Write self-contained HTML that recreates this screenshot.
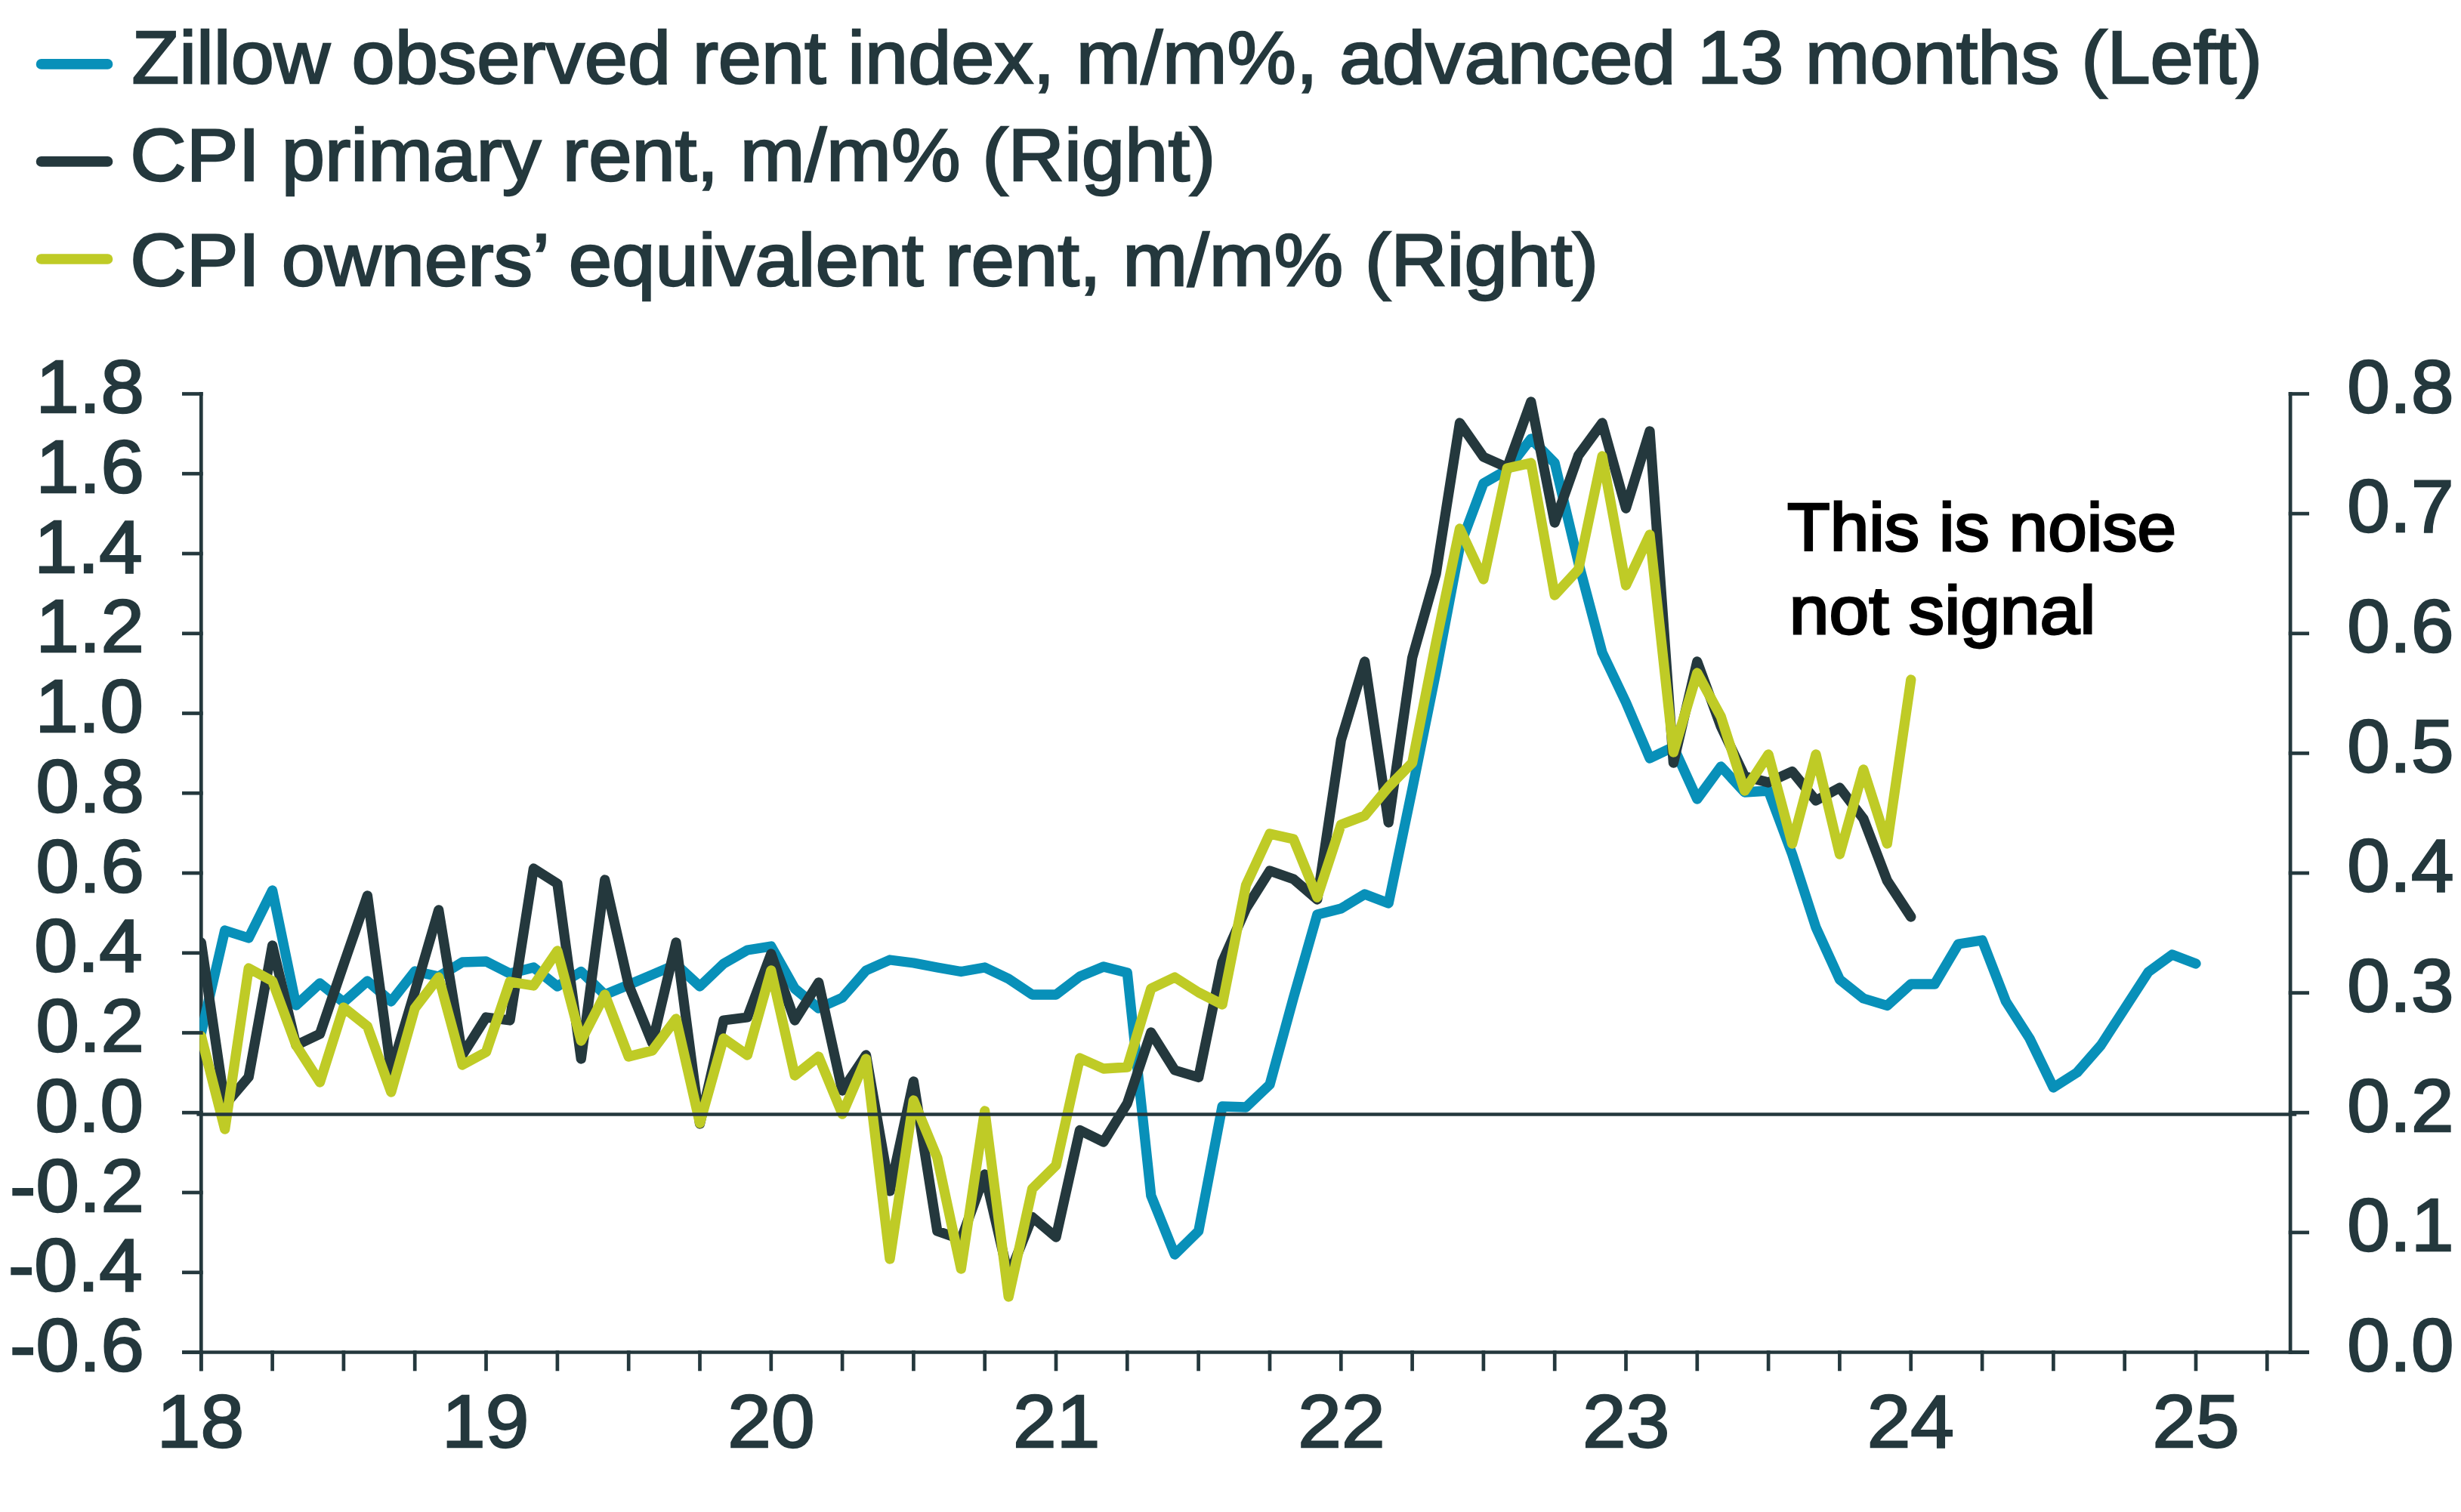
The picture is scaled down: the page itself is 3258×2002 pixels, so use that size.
<!DOCTYPE html><html><head><meta charset="utf-8"><style>html,body{margin:0;padding:0;background:#fff;overflow:hidden}svg{display:block}</style></head><body>
<svg width="3258" height="2002" viewBox="0 0 3258 2002">
<rect width="3258" height="2002" fill="#fff"/>
<g stroke-width="13.7" stroke-linecap="round">
<line x1="54.6" y1="84.9" x2="142.5" y2="84.9" stroke="#0890b9"/>
<line x1="54.6" y1="213.9" x2="142.5" y2="213.9" stroke="#24383d"/>
<line x1="54.6" y1="343" x2="142.5" y2="343" stroke="#bfcb26"/>
</g>
<g font-family="Liberation Sans, sans-serif" font-size="99.0" fill="#24383d" stroke="#24383d" stroke-width="2.4">
<text transform="translate(174.42,110) scale(1.0378,1)">Zillow observed rent index, m/m%, advanced 13 months (Left)</text>
<text transform="translate(172.34,239.3) scale(1.0410,1)">CPI primary rent, m/m% (Right)</text>
<text transform="translate(172.33,377.9) scale(1.0413,1)">CPI owners’ equivalent rent, m/m% (Right)</text>
<text transform="translate(47.45,546.0) scale(1.0414,1)">1.8</text>
<text transform="translate(47.45,651.8) scale(1.0414,1)">1.6</text>
<text transform="translate(45.37,757.5) scale(1.0414,1)">1.4</text>
<text transform="translate(47.45,863.2) scale(1.0414,1)">1.2</text>
<text transform="translate(46.41,969.0) scale(1.0414,1)">1.0</text>
<text transform="translate(47.45,1074.8) scale(1.0414,1)">0.8</text>
<text transform="translate(47.45,1180.5) scale(1.0414,1)">0.6</text>
<text transform="translate(45.37,1286.2) scale(1.0414,1)">0.4</text>
<text transform="translate(47.45,1392.0) scale(1.0414,1)">0.2</text>
<text transform="translate(46.41,1497.8) scale(1.0414,1)">0.0</text>
<text transform="translate(13.09,1603.5) scale(1.0414,1)">-0.2</text>
<text transform="translate(11.00,1709.2) scale(1.0414,1)">-0.4</text>
<text transform="translate(13.09,1815.0) scale(1.0414,1)">-0.6</text>
<text transform="translate(3107.22,545.7) scale(1.0263,1)">0.8</text>
<text transform="translate(3107.22,704.3) scale(1.0263,1)">0.7</text>
<text transform="translate(3107.22,863.0) scale(1.0263,1)">0.6</text>
<text transform="translate(3107.22,1021.6) scale(1.0263,1)">0.5</text>
<text transform="translate(3107.22,1180.2) scale(1.0263,1)">0.4</text>
<text transform="translate(3107.22,1338.8) scale(1.0263,1)">0.3</text>
<text transform="translate(3107.22,1497.5) scale(1.0263,1)">0.2</text>
<text transform="translate(3107.22,1656.1) scale(1.0263,1)">0.1</text>
<text transform="translate(3107.22,1814.7) scale(1.0263,1)">0.0</text>
<text transform="translate(207.83,1915.7) scale(1.0455,1)">18</text>
<text transform="translate(585.07,1915.7) scale(1.0455,1)">19</text>
<text transform="translate(963.35,1915.7) scale(1.0455,1)">20</text>
<text transform="translate(1341.12,1915.7) scale(1.0455,1)">21</text>
<text transform="translate(1718.36,1915.7) scale(1.0455,1)">22</text>
<text transform="translate(2095.07,1915.7) scale(1.0455,1)">23</text>
<text transform="translate(2471.79,1915.7) scale(1.0455,1)">24</text>
<text transform="translate(2849.55,1915.7) scale(1.0455,1)">25</text>
</g>
<g font-family="Liberation Sans, sans-serif" font-size="89.3" fill="#000" stroke="#000" stroke-width="2.8">
<text transform="translate(2366.06,729) scale(1.0381,1)">This is noise</text>
<text transform="translate(2368.76,838.8) scale(1.0610,1)">not signal</text>
</g>
<g stroke="#24383d" stroke-width="4.7" fill="none">
<line x1="266.3" y1="519.1" x2="266.3" y2="1815.3"/>
<line x1="3032.1" y1="519.1" x2="3032.1" y2="1792.9"/>
<line x1="241" y1="1790.5" x2="3057" y2="1790.5"/>
</g>
<defs><clipPath id="pc"><rect x="264.2" y="0" width="2990" height="2002"/></clipPath></defs>
<g fill="none" stroke-width="13.3" stroke-linejoin="round" stroke-linecap="round" clip-path="url(#pc)">
<path d="M266.3,1368.0 L297.7,1232.0 L329.2,1242.0 L360.6,1179.0 L392.0,1331.0 L423.5,1302.0 L454.9,1327.0 L486.4,1299.0 L517.8,1326.0 L549.2,1286.0 L580.7,1293.0 L612.1,1274.0 L643.5,1273.0 L675.0,1289.0 L706.4,1281.0 L737.9,1306.0 L769.3,1286.5 L800.7,1317.0 L832.2,1304.0 L863.6,1290.5 L895.0,1277.0 L926.5,1306.0 L957.9,1276.0 L989.4,1258.0 L1020.8,1253.0 L1052.2,1309.0 L1083.7,1335.0 L1115.1,1321.0 L1146.5,1285.0 L1178.0,1271.0 L1209.4,1275.0 L1240.8,1281.0 L1272.3,1286.5 L1303.7,1281.0 L1335.2,1296.0 L1366.6,1317.0 L1398.0,1317.0 L1429.5,1293.0 L1460.9,1280.0 L1492.3,1288.0 L1523.8,1583.0 L1555.2,1661.0 L1586.7,1630.0 L1618.1,1465.0 L1649.5,1466.0 L1681.0,1436.0 L1712.4,1321.0 L1743.8,1211.0 L1775.3,1203.0 L1806.7,1184.0 L1838.2,1196.0 L1869.6,1045.0 L1901.0,890.0 L1932.5,724.0 L1963.9,640.0 L1995.3,622.0 L2026.8,581.0 L2058.2,613.0 L2089.6,745.0 L2121.1,864.0 L2152.5,930.0 L2184.0,1004.0 L2215.4,989.0 L2246.8,1058.0 L2278.3,1015.0 L2309.7,1049.0 L2341.1,1047.0 L2372.6,1131.0 L2404.0,1228.0 L2435.5,1297.0 L2466.9,1322.0 L2498.3,1331.5 L2529.8,1303.0 L2561.2,1303.0 L2592.6,1250.0 L2624.1,1245.0 L2655.5,1326.0 L2686.9,1375.0 L2718.4,1440.0 L2749.8,1420.0 L2781.3,1384.0 L2812.7,1335.5 L2844.1,1287.0 L2875.6,1264.0 L2907.0,1276.0" stroke="#0890b9"/>
<path d="M266.3,1248.0 L297.7,1463.0 L329.2,1426.0 L360.6,1252.0 L392.0,1384.0 L423.5,1369.0 L454.9,1277.0 L486.4,1186.0 L517.8,1418.0 L549.2,1313.0 L580.7,1205.0 L612.1,1397.0 L643.5,1347.0 L675.0,1351.0 L706.4,1150.0 L737.9,1170.0 L769.3,1402.0 L800.7,1165.0 L832.2,1304.0 L863.6,1381.0 L895.0,1248.0 L926.5,1488.0 L957.9,1351.0 L989.4,1347.0 L1020.8,1263.0 L1052.2,1351.0 L1083.7,1301.0 L1115.1,1444.0 L1146.5,1397.0 L1178.0,1577.0 L1209.4,1432.0 L1240.8,1630.0 L1272.3,1641.0 L1303.7,1555.0 L1335.2,1690.0 L1366.6,1611.5 L1398.0,1638.0 L1429.5,1496.5 L1460.9,1512.0 L1492.3,1461.0 L1523.8,1367.0 L1555.2,1417.0 L1586.7,1426.5 L1618.1,1274.0 L1649.5,1203.0 L1681.0,1153.0 L1712.4,1164.0 L1743.8,1191.0 L1775.3,980.0 L1806.7,876.0 L1838.2,1089.0 L1869.6,871.0 L1901.0,760.0 L1932.5,560.0 L1963.9,605.0 L1995.3,619.0 L2026.8,532.0 L2058.2,692.0 L2089.6,603.0 L2121.1,560.0 L2152.5,673.0 L2184.0,571.0 L2215.4,1010.0 L2246.8,876.0 L2278.3,962.0 L2309.7,1028.0 L2341.1,1036.0 L2372.6,1021.5 L2404.0,1060.0 L2435.5,1043.0 L2466.9,1084.0 L2498.3,1166.0 L2529.8,1214.0" stroke="#24383d"/>
<path d="M266.3,1372.0 L297.7,1495.0 L329.2,1282.0 L360.6,1299.0 L392.0,1384.0 L423.5,1433.0 L454.9,1334.0 L486.4,1359.0 L517.8,1446.0 L549.2,1335.0 L580.7,1294.0 L612.1,1410.0 L643.5,1393.0 L675.0,1300.0 L706.4,1305.0 L737.9,1259.0 L769.3,1378.0 L800.7,1317.0 L832.2,1399.0 L863.6,1391.0 L895.0,1349.0 L926.5,1487.0 L957.9,1375.0 L989.4,1397.0 L1020.8,1285.0 L1052.2,1424.0 L1083.7,1399.0 L1115.1,1475.0 L1146.5,1402.0 L1178.0,1667.0 L1209.4,1457.0 L1240.8,1533.0 L1272.3,1680.0 L1303.7,1471.0 L1335.2,1717.0 L1366.6,1574.0 L1398.0,1543.0 L1429.5,1401.0 L1460.9,1415.0 L1492.3,1413.0 L1523.8,1309.0 L1555.2,1294.0 L1586.7,1314.0 L1618.1,1330.0 L1649.5,1172.0 L1681.0,1104.0 L1712.4,1111.0 L1743.8,1188.0 L1775.3,1092.0 L1806.7,1080.0 L1838.2,1042.0 L1869.6,1010.0 L1901.0,851.0 L1932.5,700.0 L1963.9,767.0 L1995.3,620.0 L2026.8,613.0 L2058.2,788.0 L2089.6,754.0 L2121.1,604.0 L2152.5,775.0 L2184.0,708.0 L2215.4,996.0 L2246.8,891.0 L2278.3,949.0 L2309.7,1047.0 L2341.1,999.0 L2372.6,1117.0 L2404.0,999.0 L2435.5,1131.0 L2466.9,1019.0 L2498.3,1117.0 L2529.8,900.0" stroke="#bfcb26"/>
</g>
<g stroke="#24383d" stroke-width="4.7" fill="none">
<line x1="260.4" y1="1475.5" x2="3040.2" y2="1475.5"/>
<line x1="241" y1="521.5" x2="268.7" y2="521.5"/>
<line x1="241" y1="627.2" x2="268.7" y2="627.2"/>
<line x1="241" y1="733.0" x2="268.7" y2="733.0"/>
<line x1="241" y1="838.8" x2="268.7" y2="838.8"/>
<line x1="241" y1="944.5" x2="268.7" y2="944.5"/>
<line x1="241" y1="1050.2" x2="268.7" y2="1050.2"/>
<line x1="241" y1="1156.0" x2="268.7" y2="1156.0"/>
<line x1="241" y1="1261.8" x2="268.7" y2="1261.8"/>
<line x1="241" y1="1367.5" x2="268.7" y2="1367.5"/>
<line x1="241" y1="1473.2" x2="268.7" y2="1473.2"/>
<line x1="241" y1="1579.0" x2="268.7" y2="1579.0"/>
<line x1="241" y1="1684.8" x2="268.7" y2="1684.8"/>
<line x1="241" y1="1790.5" x2="268.7" y2="1790.5"/>
<line x1="3029.7" y1="521.5" x2="3057" y2="521.5"/>
<line x1="3029.7" y1="680.1" x2="3057" y2="680.1"/>
<line x1="3029.7" y1="838.8" x2="3057" y2="838.8"/>
<line x1="3029.7" y1="997.4" x2="3057" y2="997.4"/>
<line x1="3029.7" y1="1156.0" x2="3057" y2="1156.0"/>
<line x1="3029.7" y1="1314.6" x2="3057" y2="1314.6"/>
<line x1="3029.7" y1="1473.2" x2="3057" y2="1473.2"/>
<line x1="3029.7" y1="1631.9" x2="3057" y2="1631.9"/>
<line x1="3029.7" y1="1790.5" x2="3057" y2="1790.5"/>
<line x1="266.3" y1="1788" x2="266.3" y2="1815.3"/>
<line x1="360.6" y1="1788" x2="360.6" y2="1815.3"/>
<line x1="454.9" y1="1788" x2="454.9" y2="1815.3"/>
<line x1="549.2" y1="1788" x2="549.2" y2="1815.3"/>
<line x1="643.5" y1="1788" x2="643.5" y2="1815.3"/>
<line x1="737.9" y1="1788" x2="737.9" y2="1815.3"/>
<line x1="832.2" y1="1788" x2="832.2" y2="1815.3"/>
<line x1="926.5" y1="1788" x2="926.5" y2="1815.3"/>
<line x1="1020.8" y1="1788" x2="1020.8" y2="1815.3"/>
<line x1="1115.1" y1="1788" x2="1115.1" y2="1815.3"/>
<line x1="1209.4" y1="1788" x2="1209.4" y2="1815.3"/>
<line x1="1303.7" y1="1788" x2="1303.7" y2="1815.3"/>
<line x1="1398.0" y1="1788" x2="1398.0" y2="1815.3"/>
<line x1="1492.3" y1="1788" x2="1492.3" y2="1815.3"/>
<line x1="1586.6" y1="1788" x2="1586.6" y2="1815.3"/>
<line x1="1681.0" y1="1788" x2="1681.0" y2="1815.3"/>
<line x1="1775.3" y1="1788" x2="1775.3" y2="1815.3"/>
<line x1="1869.6" y1="1788" x2="1869.6" y2="1815.3"/>
<line x1="1963.9" y1="1788" x2="1963.9" y2="1815.3"/>
<line x1="2058.2" y1="1788" x2="2058.2" y2="1815.3"/>
<line x1="2152.5" y1="1788" x2="2152.5" y2="1815.3"/>
<line x1="2246.8" y1="1788" x2="2246.8" y2="1815.3"/>
<line x1="2341.1" y1="1788" x2="2341.1" y2="1815.3"/>
<line x1="2435.4" y1="1788" x2="2435.4" y2="1815.3"/>
<line x1="2529.7" y1="1788" x2="2529.7" y2="1815.3"/>
<line x1="2624.1" y1="1788" x2="2624.1" y2="1815.3"/>
<line x1="2718.4" y1="1788" x2="2718.4" y2="1815.3"/>
<line x1="2812.7" y1="1788" x2="2812.7" y2="1815.3"/>
<line x1="2907.0" y1="1788" x2="2907.0" y2="1815.3"/>
<line x1="3001.3" y1="1788" x2="3001.3" y2="1815.3"/>
</g>
</svg></body></html>
